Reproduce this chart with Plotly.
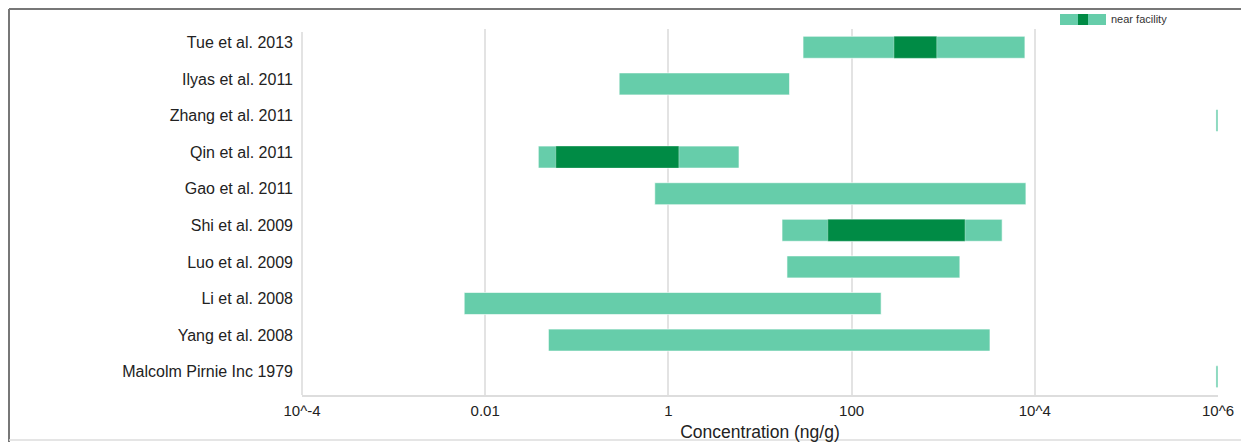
import plotly.graph_objects as go

studies = ["Tue et al. 2013", "Ilyas et al. 2011", "Zhang et al. 2011", "Qin et al. 2011",
           "Gao et al. 2011", "Shi et al. 2009", "Luo et al. 2009", "Li et al. 2008",
           "Yang et al. 2008", "Malcolm Pirnie Inc 1979"]
range_low = [29.5, 0.29, 9.5e5, 0.038, 0.71, 17.4, 19.7, 0.0059, 0.049, 9.5e5]
range_high = [7800, 21, 1.0e6, 5.9, 8000, 4400, 1520, 210, 3240, 1.0e6]

near_studies = ["Tue et al. 2013", "Qin et al. 2011", "Shi et al. 2009"]
near_low = [290, 0.059, 55]
near_high = [850, 1.3, 1730]

tick_vals = [1e-4, 1e-2, 1, 100, 1e4, 1e6]
tick_text = ["10^-4", "0.01", "1", "100", "10^4", "10^6"]

LIGHT = "#66CDAA"
DARK = "#008B45"

fig = go.Figure()
fig.add_trace(go.Bar(
    y=studies, base=range_low, x=[h - l for l, h in zip(range_low, range_high)],
    orientation="h", width=0.6, marker=dict(color=LIGHT, line=dict(color="rgba(255,255,255,0.6)", width=1)),
    showlegend=False, hoverinfo="skip"))
fig.add_trace(go.Bar(
    y=near_studies, base=near_low, x=[h - l for l, h in zip(near_low, near_high)],
    orientation="h", width=0.6, marker=dict(color=DARK, line=dict(color="rgba(255,255,255,0.3)", width=1)),
    showlegend=False, hoverinfo="skip"))

OFF = 8  # page body margin
W, H = 1249 - OFF, 442 - OFF
L, T = 302 - OFF, 29 - OFF
R = W - (1218 - OFF)
B = H - (395 - OFF)
pw, ph = W - L - R, H - T - B

def px(x):
    return (x - OFF - L) / pw

def py(y):
    return 1 - (y - OFF - T) / ph

shapes = [
    dict(type="line", xref="paper", yref="paper", x0=px(9), x1=px(1260), y0=py(9), y1=py(9),
         line=dict(color="#777777", width=2)),
    dict(type="line", xref="paper", yref="paper", x0=px(9), x1=px(9), y0=py(9), y1=py(442),
         line=dict(color="#777777", width=2)),
    dict(type="line", xref="paper", yref="paper", x0=px(9), x1=px(1260), y0=py(440), y1=py(440),
         line=dict(color="#dddddd", width=1.5)),
    dict(type="line", xref="paper", yref="paper", x0=0, x1=0, y0=py(32), y1=0,
         line=dict(color="#e3e3e3", width=2)),
    dict(type="rect", xref="paper", yref="paper", x0=px(1060), x1=px(1106), y0=py(25), y1=py(14),
         fillcolor=LIGHT, line=dict(width=0)),
    dict(type="rect", xref="paper", yref="paper", x0=px(1078), x1=px(1088), y0=py(25), y1=py(14),
         fillcolor=DARK, line=dict(width=0)),
]

fig.update_layout(
    width=W, height=H,
    margin=dict(l=L, r=R, t=T, b=B, autoexpand=False),
    paper_bgcolor="white", plot_bgcolor="white",
    barmode="overlay",
    font=dict(family="Liberation Sans, Arial, sans-serif", color="#222222"),
    shapes=shapes,
    annotations=[dict(text="near facility", xref="paper", yref="paper", x=px(1109), y=py(19),
                      xanchor="left", yanchor="middle", showarrow=False,
                      font=dict(size=11, color="#333333"))],
    xaxis=dict(type="log", range=[-4, 6], tickvals=tick_vals, ticktext=tick_text,
               showgrid=True, gridcolor="#e3e3e3", gridwidth=2,
               showline=True, linecolor="#dddddd", linewidth=2, automargin=False,
               ticks="", ticklabelstandoff=1, tickfont=dict(size=15, color="#222222"),
               title=dict(text="Concentration (ng/g)", font=dict(size=17.5, color="#222222"), standoff=9),
               zeroline=False),
    yaxis=dict(autorange="reversed", showgrid=False, showline=False, automargin=False,
               ticks="", ticklabelstandoff=8, ticklabelshift=5,
               tickfont=dict(size=16, color="#222222")),
)

fig.write_html("out.html")
